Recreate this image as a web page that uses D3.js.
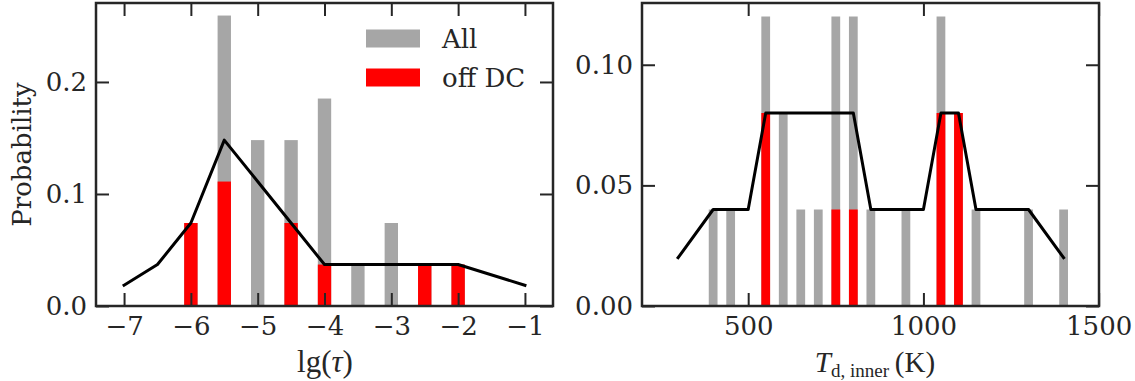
<!DOCTYPE html>
<html><head><meta charset="utf-8">
<script src="https://cdn.jsdelivr.net/npm/d3@7"></script>
<style>body{margin:0;background:#fff} svg{display:block}</style>
</head><body>
<svg id="c" width="1135" height="381"></svg>
<script>
// ---- left panel: lg(tau) ----
const tauCenters = [-6, -5.5, -5, -4.5, -4, -3.5, -3, -2.5, -2];
const tauAll     = [0.0741, 0.2593, 0.1481, 0.1481, 0.1852, 0.0370, 0.0741, 0.0370, 0.0370];
const tauOffDC   = [0.0741, 0.1111, 0, 0.0741, 0.0370, 0, 0, 0.0370, 0.0370];
const tauLineX   = [-7, -6.5, -6, -5.5, -5, -4.5, -4, -3.5, -3, -2.5, -2, -1];
const tauLineY   = [0.0185, 0.0370, 0.0741, 0.1481, 0.1111, 0.0741, 0.0370, 0.0370, 0.0370, 0.0370, 0.0370, 0.0185];
const tauTicks   = [-7, -6, -5, -4, -3, -2, -1];
const tauYTicks  = [0, 0.1, 0.2];

// ---- right panel: T_d,inner ----
const tCenters = [400, 450, 550, 600, 650, 700, 750, 800, 850, 950, 1050, 1100, 1150, 1300, 1400];
const tAll     = [0.04, 0.04, 0.12, 0.08, 0.04, 0.04, 0.12, 0.12, 0.04, 0.04, 0.12, 0.08, 0.04, 0.04, 0.04];
const tOffDC   = [0, 0, 0.08, 0, 0, 0, 0.04, 0.04, 0, 0, 0.08, 0.08, 0, 0, 0];
const tLineX   = [300, 400, 500, 550, 800, 850, 1000, 1050, 1100, 1150, 1300, 1400];
const tLineY   = [0.02, 0.04, 0.04, 0.08, 0.08, 0.04, 0.04, 0.08, 0.08, 0.04, 0.04, 0.02];
const tTicks   = [500, 1000, 1500];
const tYTicks  = [0, 0.05, 0.10];

const legendLabels = ["All", "off DC"];

const GRAY = "#a6a6a6", RED = "#ff0000", INK = "#262626";
const TICKFONT = "'DejaVu Serif', serif";
const MATHFONT = "'Liberation Serif', 'DejaVu Serif', serif";

const svg = d3.select("#c");

function panel(o) {
  const x = d3.scaleLinear().domain(o.xDomain).range([o.x0, o.x1]);
  const y = d3.scaleLinear().domain(o.yDomain).range([o.y1, o.y0]);
  const g = svg.append("g");
  const bw = Math.abs(x(o.barW) - x(0));

  g.append("g").selectAll("rect").data(o.centers).join("rect")
    .attr("x", (d) => x(d) - bw / 2).attr("width", bw)
    .attr("y", (d, i) => y(o.all[i])).attr("height", (d, i) => y(0) - y(o.all[i]))
    .attr("fill", GRAY);
  g.append("g").selectAll("rect").data(o.centers.filter((d, i) => o.off[i] > 0)).join("rect")
    .attr("x", (d) => x(d) - bw / 2).attr("width", bw)
    .attr("y", (d) => y(o.off[o.centers.indexOf(d)]))
    .attr("height", (d) => y(0) - y(o.off[o.centers.indexOf(d)]))
    .attr("fill", RED);

  const pts = o.lx.map((d, i) => [d, o.ly[i]]);
  g.append("path").datum(pts)
    .attr("d", d3.line().x((d) => x(d[0])).y((d) => y(d[1])))
    .attr("fill", "none").attr("stroke", "#000").attr("stroke-width", 3)
    .attr("stroke-linejoin", "round").attr("stroke-linecap", "square");

  const TL = 13;
  function style(sel, labels) {
    sel.select(".domain").remove();
    sel.attr("font-family", TICKFONT).attr("font-size", 26);
    sel.selectAll(".tick line").attr("stroke", INK).attr("stroke-width", 2);
    sel.selectAll(".tick text").attr("fill", INK).style("font-family", TICKFONT).style("font-size", "26px");
    if (!labels) sel.selectAll(".tick text").remove();
  }
  g.append("g").attr("transform", `translate(0,${o.y1})`)
    .call(d3.axisBottom(x).tickValues(o.xt).tickFormat(o.xf).tickSizeInner(-TL).tickSizeOuter(0).tickPadding(11))
    .call((s) => style(s, true));
  g.append("g").attr("transform", `translate(0,${o.y0})`)
    .call(d3.axisTop(x).tickValues(o.xt).tickSizeInner(-TL).tickSizeOuter(0))
    .call((s) => style(s, false));
  g.append("g").attr("transform", `translate(${o.x0},0)`)
    .call(d3.axisLeft(y).tickValues(o.yt).tickFormat(o.yf).tickSizeInner(-TL).tickSizeOuter(0).tickPadding(9))
    .call((s) => style(s, true));
  g.append("g").attr("transform", `translate(${o.x1},0)`)
    .call(d3.axisRight(y).tickValues(o.yt).tickSizeInner(-TL).tickSizeOuter(0))
    .call((s) => style(s, false));

  g.append("rect").attr("x", o.x0).attr("y", o.y0)
    .attr("width", o.x1 - o.x0).attr("height", o.y1 - o.y0)
    .attr("fill", "none").attr("stroke", INK).attr("stroke-width", 2.5);
  return { x, y, g };
}

const L = panel({
  x0: 96, x1: 553, y0: 3, y1: 306,
  xDomain: [-7.42, -0.58], yDomain: [0, 0.2705], barW: 0.2,
  centers: tauCenters, all: tauAll, off: tauOffDC, lx: tauLineX, ly: tauLineY,
  xt: tauTicks, xf: d3.format("d"), yt: tauYTicks, yf: d3.format(".1f")
});
const R = panel({
  x0: 642, x1: 1099, y0: 3, y1: 306,
  xDomain: [197, 1501], yDomain: [0, 0.1256], barW: 25,
  centers: tCenters, all: tAll, off: tOffDC, lx: tLineX, ly: tLineY,
  xt: tTicks, xf: d3.format("d"), yt: tYTicks, yf: d3.format(".2f")
});

// legend
const leg = svg.append("g");
[GRAY, RED].forEach((c, i) => {
  leg.append("rect").attr("x", 366).attr("y", 29.5 + i * 39).attr("width", 54).attr("height", 18).attr("fill", c);
  leg.append("text").attr("x", 442).attr("y", 47.5 + i * 39.5).text(legendLabels[i])
    .attr("font-family", TICKFONT).attr("font-size", 26).attr("fill", INK);
});

// y label
svg.append("text").attr("transform", "translate(31,154.5) rotate(-90)")
  .attr("text-anchor", "middle").attr("font-family", TICKFONT).attr("font-size", 26)
  .attr("fill", INK).text("Probability");

// x labels (math style)
const xl1 = svg.append("text").attr("x", 325).attr("y", 372).attr("text-anchor", "middle")
  .attr("font-family", MATHFONT).attr("font-size", 31).attr("fill", INK);
xl1.append("tspan").text("lg(");
xl1.append("tspan").attr("font-style", "italic").text("τ");
xl1.append("tspan").text(")");

const xl2 = svg.append("text").attr("x", 875).attr("y", 372).attr("text-anchor", "middle")
  .attr("font-family", MATHFONT).attr("font-size", 29).attr("fill", INK);
xl2.append("tspan").attr("font-style", "italic").text("T");
xl2.append("tspan").attr("font-size", 19).attr("dy", 5).text("d, inner");
xl2.append("tspan").attr("dy", -5).text("\u2009(K)");
</script>
</body></html>
